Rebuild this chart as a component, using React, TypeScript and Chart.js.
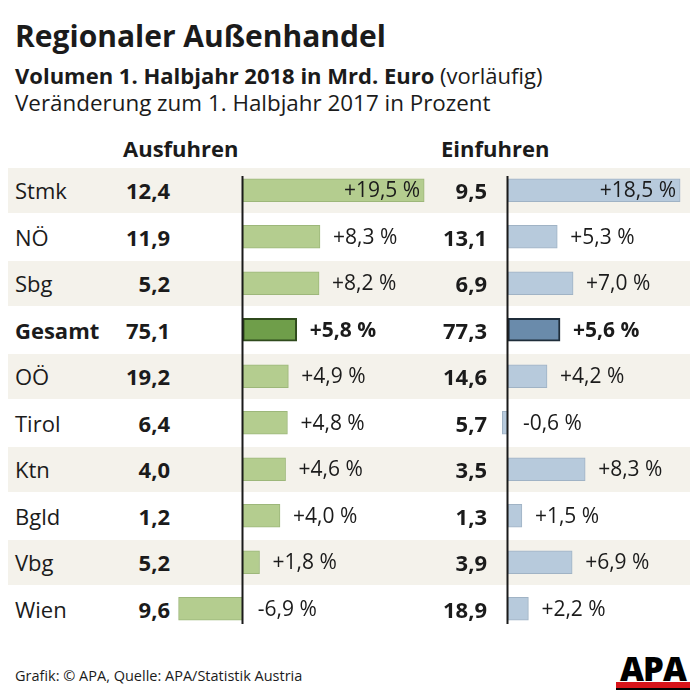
import React, { useEffect, useRef } from 'react';
import { Chart, registerables } from 'chart.js';
Chart.register(...registerables);

const regions = ['Stmk', 'NÖ', 'Sbg', 'Gesamt', 'OÖ', 'Tirol', 'Ktn', 'Bgld', 'Vbg', 'Wien'];
const exportVolume = [12.4, 11.9, 5.2, 75.1, 19.2, 6.4, 4.0, 1.2, 5.2, 9.6];
const exportChange = [19.5, 8.3, 8.2, 5.8, 4.9, 4.8, 4.6, 4.0, 1.8, -6.9];
const importVolume = [9.5, 13.1, 6.9, 77.3, 14.6, 5.7, 3.5, 1.3, 3.9, 18.9];
const importChange = [18.5, 5.3, 7.0, 5.6, 4.2, -0.6, 8.3, 1.5, 6.9, 2.2];
const totalLabel = 'Gesamt';

const title = 'Regionaler Außenhandel';
const subtitleBold = 'Volumen 1. Halbjahr 2018 in Mrd. Euro';
const subtitleNormal = ' (vorläufig)';
const subtitle2 = 'Veränderung zum 1. Halbjahr 2017 in Prozent';
const exportHeader = 'Ausfuhren';
const importHeader = 'Einfuhren';
const source = 'Grafik: © APA, Quelle: APA/Statistik Austria';

const FONT = '"Open Sans", sans-serif';
const TEXT = '#1b1b1b';
const ROWS_TOP = 167;
const ROW_H = 46.5;
const ROWS_H = ROW_H * regions.length;

const fmtNum = (v: number) => v.toFixed(1).replace('.', ',');
const fmtPct = (v: number) => (v > 0 ? '+' : '') + fmtNum(v) + ' %';

const zeroLinePlugin = {
  id: 'zeroLine',
  afterDatasetsDraw(chart: any) {
    const ctx = chart.ctx;
    const x = Math.round(chart.scales.x.getPixelForValue(0)) - 0.5;
    ctx.save();
    ctx.strokeStyle = '#1a1a1a';
    ctx.lineWidth = 2;
    ctx.beginPath();
    ctx.moveTo(x, chart.chartArea.top + 9);
    ctx.lineTo(x, chart.chartArea.bottom - 8);
    ctx.stroke();
    ctx.restore();
  },
};

const pctLabelPlugin = {
  id: 'pctLabels',
  afterDatasetsDraw(chart: any) {
    const ctx = chart.ctx;
    const meta = chart.getDatasetMeta(0);
    const data = chart.data.datasets[0].data as number[];
    const zero = chart.scales.x.getPixelForValue(0);
    ctx.save();
    meta.data.forEach((bar: any, i: number) => {
      const v = data[i];
      const bold = chart.data.labels[i] === totalLabel;
      ctx.font = `${bold ? 'bold ' : ''}21px ${FONT}`;
      const txt = fmtPct(v);
      const w = ctx.measureText(txt).width;
      ctx.fillStyle = TEXT;
      ctx.textBaseline = 'middle';
      let x: number;
      if (v < 0) {
        x = zero + 15;
        ctx.textAlign = 'left';
      } else if (bar.x + 13 + w > chart.chartArea.right) {
        x = bar.x - 4;
        ctx.textAlign = 'right';
      } else {
        x = bar.x + 13;
        ctx.textAlign = 'left';
      }
      ctx.fillText(txt, x, bar.y + 1);
    });
    ctx.restore();
  },
};

type ColProps = {
  values: number[];
  min: number;
  max: number;
  left: number;
  width: number;
  fill: string;
  border: string;
  totalFill: string;
  totalBorder: string;
};

function BarColumn(p: ColProps) {
  const ref = useRef<HTMLCanvasElement>(null);
  useEffect(() => {
    const chart = new Chart(ref.current!, {
      type: 'bar',
      data: {
        labels: regions,
        datasets: [
          {
            data: p.values,
            backgroundColor: regions.map((r) => (r === totalLabel ? p.totalFill : p.fill)),
            borderColor: regions.map((r) => (r === totalLabel ? p.totalBorder : p.border)),
            borderWidth: regions.map((r) => (r === totalLabel ? 2 : 1)),
            borderSkipped: false,
            barThickness: 23,
          },
        ],
      },
      options: {
        indexAxis: 'y',
        animation: false,
        responsive: false,
        maintainAspectRatio: false,
        events: [],
        layout: { padding: 0 },
        plugins: { legend: { display: false }, tooltip: { enabled: false } },
        scales: {
          x: { display: false, min: p.min, max: p.max },
          y: { display: false },
        },
      },
      plugins: [zeroLinePlugin, pctLabelPlugin],
    } as any);
    return () => chart.destroy();
  }, []);
  return (
    <canvas
      ref={ref}
      width={p.width}
      height={ROWS_H}
      style={{ position: 'absolute', left: p.left, top: ROWS_TOP, width: p.width, height: ROWS_H, zIndex: 2 }}
    />
  );
}

export default function App() {
  const abs = (o: any): React.CSSProperties => ({ position: 'absolute', whiteSpace: 'nowrap', ...o });
  return (
    <div
      style={{
        position: 'fixed',
        left: 0,
        top: 0,
        width: 700,
        height: 698,
        background: '#ffffff',
        fontFamily: FONT,
        color: TEXT,
        overflow: 'hidden',
      }}
    >
      <div style={abs({ left: 15, top: 21, fontSize: 30, lineHeight: '30px', fontWeight: 700 })}>{title}</div>
      <div style={abs({ left: 15, top: 64, fontSize: 22, lineHeight: '22px' })}>
        <span style={{ fontWeight: 700 }}>{subtitleBold}</span>
        <span>{subtitleNormal}</span>
      </div>
      <div style={abs({ left: 15, top: 92, fontSize: 22.4, lineHeight: '22px' })}>{subtitle2}</div>
      <div style={abs({ left: 123, top: 137, fontSize: 22, lineHeight: '22px', fontWeight: 700 })}>{exportHeader}</div>
      <div style={abs({ left: 441, top: 137, fontSize: 22, lineHeight: '22px', fontWeight: 700 })}>{importHeader}</div>

      {regions.map((r, i) =>
        i % 2 === 0 ? (
          <div
            key={'bg' + i}
            style={abs({ left: 8, width: 682, top: ROWS_TOP + i * ROW_H + 1, height: ROW_H - 2, background: '#f4f2eb' })}
          />
        ) : null
      )}

      {regions.map((r, i) => {
        const bold = r === totalLabel;
        const row = { top: ROWS_TOP + i * ROW_H, height: ROW_H, lineHeight: ROW_H + 'px', fontSize: 22, zIndex: 3 };
        return (
          <React.Fragment key={r}>
            <div style={abs({ ...row, left: 15, fontWeight: bold ? 700 : 400 })}>{r}</div>
            <div style={abs({ ...row, left: 90, width: 80, textAlign: 'right', fontWeight: 700 })}>
              {fmtNum(exportVolume[i])}
            </div>
            <div style={abs({ ...row, left: 407, width: 80, textAlign: 'right', fontWeight: 700 })}>
              {fmtNum(importVolume[i])}
            </div>
          </React.Fragment>
        );
      })}

      <BarColumn
        values={exportChange}
        min={-7.5}
        max={21.2}
        left={173}
        width={267}
        fill="#b4cd8f"
        border="#9db77a"
        totalFill="#6f9e4a"
        totalBorder="#2f4a1c"
      />
      <BarColumn
        values={importChange}
        min={-3}
        max={20.1}
        left={480}
        width={215}
        fill="#b7cadc"
        border="#a0b3c5"
        totalFill="#6a8bab"
        totalBorder="#1f2d3a"
      />

      <div style={abs({ left: 15, top: 668, fontSize: 14.5, lineHeight: '16px' })}>{source}</div>
      <div style={abs({ left: 616, top: 651, width: 74, height: 42 })}>
        <div
          style={abs({
            left: 0,
            top: 0,
            width: 74,
            textAlign: 'center',
            fontSize: 33,
            lineHeight: '36px',
            fontWeight: 800,
            letterSpacing: -1,
            color: '#000',
          })}
        >
          APA
        </div>
        <div style={abs({ left: 0, top: 31, width: 74, height: 6, background: '#d7141a', borderBottom: '2px solid #000' })} />
      </div>
    </div>
  );
}
